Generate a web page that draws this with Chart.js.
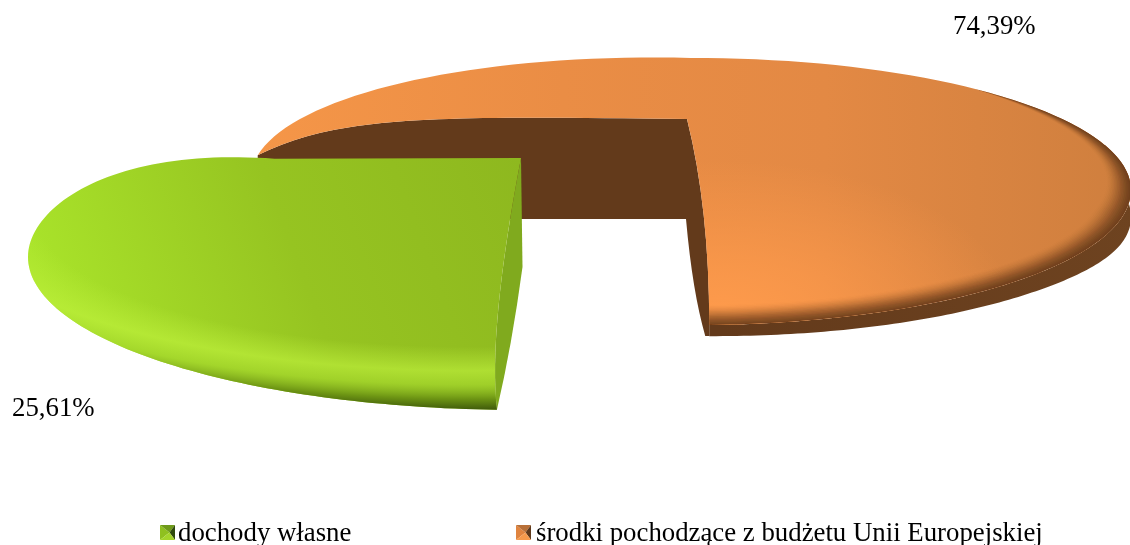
<!DOCTYPE html>
<html>
<head>
<meta charset="utf-8">
<style>
  html, body { margin: 0; padding: 0; background: #fff; }
  canvas { display: block; }
</style>
<script src="https://cdn.jsdelivr.net/npm/chart.js@4"></script>
</head>
<body>
<canvas id="chart" width="1130" height="545"></canvas>
<script>
const categories = ['dochody własne', 'środki pochodzące z budżetu Unii Europejskiej'];
const shares = [25.61, 74.39];
const sliceColors = ['#93c020', '#e88c45'];

const FONT = "26.8px 'Liberation Serif'";
const rad = (deg) => deg * Math.PI / 180;

// the picture is a distorted 3D pie, so each slice gets its own warped ellipse.
// the angles still come from the arc elements, these only say where they land
const faces = [
  {
    apex: [521, 158], cx: 521, cy: 257, rx: 493, phiFrom: 92.8, phiTo: 240,
    ry: (phi) => phi > 195 ? 153 - (phi - 195) * (phi - 195) * 0.0195 : 153,
    tilt: () => 0,
  },
  {
    apex: [687, 119], cx: 694, cy: 190, rx: 437, phiFrom: 190, phiTo: 448,
    ry: (phi) => Math.sin(rad(phi)) < 0 ? 132 : 135,
    tilt: (x) => x < 694 ? 0.027 * (x - 694) : 0,
  },
];
const labelSpots = [[12, 416], [953, 34]];
const legendSpots = [[160, 178], [516, 536]];

const rimPoint = (face, phi) => {
  let rx = face.rx;
  if (face === faces[1] && Math.cos(rad(phi)) < 0) rx = 443;
  const x = face.cx + rx * Math.cos(rad(phi));
  const y = face.cy + face.ry(phi) * Math.sin(rad(phi)) + face.tilt(x);
  return [x, y];
};

const tracePoints = (ctx, face, from, to, shift) => {
  const steps = 120;
  for (let i = 0; i <= steps; i++) {
    const phi = from + (to - from) * i / steps;
    const [x, y] = rimPoint(face, phi);
    ctx.lineTo(x, y + (shift ? shift(phi) : 0));
  }
};

const drawOrange = (ctx, arc) => {
  const face = faces[1];
  const { startAngle, endAngle } = arc.getProps(['startAngle', 'endAngle']);
  // only used to keep the arc span tied to the value
  const span = (endAngle - startAngle) / (2 * Math.PI);
  const phiTo = face.phiFrom + span / (shares[1] / 100) * (face.phiTo - face.phiFrom);
  const [ax, ay] = face.apex;
  const tip = rimPoint(face, face.phiFrom);
  const end = rimPoint(face, phiTo);

  // rim
  const rimDepth = (phi) => {
    const u = Math.abs(Math.cos(rad(phi)));
    return 11 + 6 * u + 10 * Math.pow(u, 8);
  };
  const rimFill = ctx.createLinearGradient(1130, 200, 720, 330);
  rimFill.addColorStop(0, '#6e4320');
  rimFill.addColorStop(1, '#633a1b');
  ctx.fillStyle = rimFill;
  ctx.beginPath();
  tracePoints(ctx, face, 340, phiTo, rimDepth);
  tracePoints(ctx, face, phiTo, 340);
  ctx.closePath();
  ctx.fill();

  // cut walls
  ctx.fillStyle = '#633a1b';
  ctx.beginPath();
  ctx.moveTo(ax, ay);
  ctx.quadraticCurveTo(end[0], 208, end[0], end[1]);
  ctx.lineTo(end[0], end[1] + 11);
  ctx.lineTo(end[0] - 4, end[1] + 11);
  ctx.quadraticCurveTo(692.5, 292, ax - 1, ay + 100);
  ctx.lineTo(tip[0], ay + 100);
  ctx.lineTo(tip[0], tip[1]);
  ctx.bezierCurveTo(340, 115, 430, 116, ax, ay);
  ctx.fill();

  // top face
  ctx.save();
  ctx.beginPath();
  ctx.moveTo(tip[0], tip[1]);
  tracePoints(ctx, face, face.phiFrom, phiTo);
  ctx.quadraticCurveTo(end[0], 208, ax, ay);
  ctx.bezierCurveTo(430, 116, 340, 115, tip[0], tip[1]);
  ctx.clip();

  const base = ctx.createLinearGradient(258, 0, 1130, 0);
  base.addColorStop(0, '#f59648');
  base.addColorStop(0.35, '#ea8d45');
  base.addColorStop(0.65, '#e38944');
  base.addColorStop(1, '#cf7f3e');
  ctx.fillStyle = base;
  ctx.fillRect(0, 0, 1130, 545);

  // lighter patch near the front cut
  ctx.save();
  ctx.translate(720, 320);
  ctx.scale(300, 160);
  const glow = ctx.createRadialGradient(0, 0, 0, 0, 0, 1);
  glow.addColorStop(0, 'rgba(255,155,76,1)');
  glow.addColorStop(0.4, 'rgba(255,155,76,0.65)');
  glow.addColorStop(1, 'rgba(255,155,76,0)');
  ctx.fillStyle = glow;
  ctx.fillRect(-2, -2, 4, 4);
  ctx.restore();

  // rim darkens in thin layers so the band keeps its width in pixels
  const layers = 16;
  const taper = (phi) => Math.max(0, Math.min(1, (phi - 310) / 60));
  for (let k = 1; k <= layers; k++) {
    const d = k * 1.25;
    ctx.fillStyle = `rgba(99,58,27,${0.012 * (layers - k + 1)})`;
    ctx.beginPath();
    tracePoints(ctx, face, 310, phiTo);
    for (let i = 120; i >= 0; i--) {
      const phi = 310 + (phiTo - 310) * i / 120;
      const [x, y] = rimPoint(face, phi);
      const t = d * taper(phi);
      ctx.lineTo(x - t * Math.cos(rad(phi)) * 1.5, y - t * Math.sin(rad(phi)));
    }
    ctx.closePath();
    ctx.fill();
  }
  ctx.restore();
};

const drawGreen = (ctx, arc) => {
  const face = faces[0];
  const { startAngle, endAngle } = arc.getProps(['startAngle', 'endAngle']);
  const span = (endAngle - startAngle) / (2 * Math.PI);
  const phiTo = face.phiFrom + span / (shares[0] / 100) * (face.phiTo - face.phiFrom);
  const [ax, ay] = face.apex;
  const end = rimPoint(face, face.phiFrom);
  const back = rimPoint(face, phiTo);

  // cut wall
  ctx.fillStyle = '#80aa1e';
  ctx.beginPath();
  ctx.moveTo(ax, ay);
  ctx.lineTo(ax + 1.5, ay + 109);
  ctx.quadraticCurveTo(512, 345, end[0], end[1]);
  ctx.quadraticCurveTo(488, 330, ax, ay);
  ctx.fill();

  // top face
  ctx.save();
  ctx.beginPath();
  ctx.moveTo(ax, ay);
  ctx.quadraticCurveTo(488, 330, end[0], end[1]);
  tracePoints(ctx, face, face.phiFrom, phiTo);
  ctx.lineTo(back[0], back[1]);
  ctx.closePath();
  ctx.clip();

  const base = ctx.createLinearGradient(521, 158, 60, 330);
  base.addColorStop(0, '#8eb81f');
  base.addColorStop(0.5, '#96c421');
  base.addColorStop(1, '#a9e32a');
  ctx.fillStyle = base;
  ctx.fillRect(0, 0, 1130, 545);

  ctx.translate(face.cx, face.cy);
  ctx.scale(face.rx, 153);
  const rim = ctx.createRadialGradient(-0.1, -0.3, 0, -0.1, -0.3, 1.304);
  rim.addColorStop(0, 'rgba(190,240,60,0)');
  rim.addColorStop(0.68, 'rgba(190,240,60,0)');
  rim.addColorStop(0.8, 'rgba(190,240,60,0.65)');
  rim.addColorStop(0.87, 'rgba(165,215,45,0.7)');
  rim.addColorStop(0.94, 'rgb(110,150,20)');
  rim.addColorStop(1, '#3c560a');
  ctx.fillStyle = rim;
  ctx.fillRect(-2, -2, 4, 4);
  ctx.restore();
};

const drawSwatch = (ctx, x, y, colors) => {
  const s = 15;
  const cx = x + s / 2 + 2;
  const cy = y + s / 2;
  const tri = (color, ax, ay, bx, by) => {
    ctx.fillStyle = color;
    ctx.beginPath();
    ctx.moveTo(cx, cy);
    ctx.lineTo(ax, ay);
    ctx.lineTo(bx, by);
    ctx.fill();
  };
  tri(colors[0], x, y, x, y + s);             // left
  tri(colors[1], x, y, x + s, y);             // top
  tri(colors[2], x + s, y, x + s, y + s);     // right
  tri(colors[3], x, y + s, x + s, y + s);     // bottom
};

const swatchColors = [
  ['#8fc01f', '#6f9a1a', '#2f4a0c', '#a4d42a'],
  ['#e0843f', '#b87038', '#5f3a1c', '#f69a4c'],
];

const tiltedPie = {
  id: 'tiltedPie',
  beforeDatasetsDraw(chart) {
    const ctx = chart.ctx;
    const arcs = chart.getDatasetMeta(0).data;
    ctx.save();
    drawOrange(ctx, arcs[1]);
    drawGreen(ctx, arcs[0]);
    ctx.restore();
    return false;
  },
  afterDraw(chart) {
    const ctx = chart.ctx;
    ctx.save();
    ctx.font = FONT;
    ctx.fillStyle = '#000';
    ctx.textBaseline = 'alphabetic';
    shares.forEach((value, i) => {
      const text = value.toFixed(2).replace('.', ',') + '%';
      ctx.fillText(text, labelSpots[i][0], labelSpots[i][1]);
    });
    categories.forEach((name, i) => {
      drawSwatch(ctx, legendSpots[i][0], 525, swatchColors[i]);
      ctx.fillStyle = '#000';
      ctx.fillText(name, legendSpots[i][1], 541);
    });
    ctx.restore();
  },
};

new Chart(document.getElementById('chart'), {
  type: 'pie',
  data: {
    labels: categories,
    datasets: [{ data: shares, backgroundColor: sliceColors }],
  },
  options: {
    responsive: false,
    animation: false,
    rotation: 180,
    plugins: {
      legend: { display: false },
      tooltip: { enabled: false },
    },
  },
  plugins: [tiltedPie],
});
</script>
</body>
</html>
